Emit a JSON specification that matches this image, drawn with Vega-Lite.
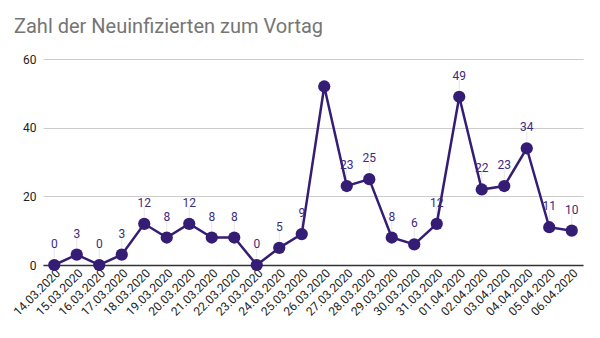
{
  "$schema": "https://vega.github.io/schema/vega-lite/v6.json",
  "width": 540,
  "height": 206,
  "autosize": "none",
  "padding": {"left": 43, "top": 59, "right": 17, "bottom": 73},
  "background": "white",
  "title": {
    "text": "Zahl der Neuinfizierten zum Vortag",
    "anchor": "start",
    "frame": "group",
    "font": "Roboto",
    "fontSize": 20,
    "fontWeight": "normal",
    "color": "#757575",
    "dx": -29,
    "offset": 16
  },
  "config": {
    "view": {"stroke": null},
    "font": "Roboto"
  },
  "data": {
    "values": [
      {"datum": "14.03.2020", "n": 0},
      {"datum": "15.03.2020", "n": 3},
      {"datum": "16.03.2020", "n": 0},
      {"datum": "17.03.2020", "n": 3},
      {"datum": "18.03.2020", "n": 12},
      {"datum": "19.03.2020", "n": 8},
      {"datum": "20.03.2020", "n": 12},
      {"datum": "21.03.2020", "n": 8},
      {"datum": "22.03.2020", "n": 8},
      {"datum": "23.03.2020", "n": 0},
      {"datum": "24.03.2020", "n": 5},
      {"datum": "25.03.2020", "n": 9},
      {"datum": "26.03.2020", "n": 52},
      {"datum": "27.03.2020", "n": 23},
      {"datum": "28.03.2020", "n": 25},
      {"datum": "29.03.2020", "n": 8},
      {"datum": "30.03.2020", "n": 6},
      {"datum": "31.03.2020", "n": 12},
      {"datum": "01.04.2020", "n": 49},
      {"datum": "02.04.2020", "n": 22},
      {"datum": "03.04.2020", "n": 23},
      {"datum": "04.04.2020", "n": 34},
      {"datum": "05.04.2020", "n": 11},
      {"datum": "06.04.2020", "n": 10}
    ]
  },
  "encoding": {
    "x": {
      "field": "datum",
      "type": "ordinal",
      "sort": null,
      "scale": {"type": "point", "padding": 0.5},
      "axis": {
        "title": null,
        "labelAngle": -45,
        "labelAlign": "right",
        "labelBaseline": "top",
        "labelFontSize": 12,
        "labelColor": "#222222",
        "labelPadding": 2,
        "labelOverlap": false,
        "ticks": false,
        "domainColor": "#333333",
        "domainWidth": 1.5,
        "grid": false,
        "labelFont": "Roboto"
      }
    },
    "y": {
      "field": "n",
      "type": "quantitative",
      "scale": {"domain": [0, 60]},
      "axis": {
        "title": null,
        "values": [0, 20, 40, 60],
        "labelFontSize": 12,
        "labelColor": "#222222",
        "labelPadding": 7,
        "ticks": false,
        "domain": false,
        "gridColor": "#cccccc",
        "labelFont": "Roboto"
      }
    }
  },
  "layer": [
    {
      "mark": {"type": "tick", "orient": "vertical", "size": 10, "thickness": 1, "color": "#e6e6e6", "yOffset": -12},
      "encoding": {
        "opacity": {"condition": {"test": "datum.n == 52", "value": 0}, "value": 1}
      }
    },
    {
      "mark": {"type": "line", "color": "#351c75", "strokeWidth": 2.5}
    },
    {
      "mark": {"type": "circle", "color": "#351c75", "size": 150, "opacity": 1}
    },
    {
      "mark": {"type": "text", "color": "#3d2a80", "fontSize": 12, "baseline": "alphabetic", "dy": -17, "font": "Roboto"},
      "encoding": {
        "text": {"field": "n", "type": "quantitative"},
        "opacity": {"condition": {"test": "datum.n == 52", "value": 0}, "value": 1}
      }
    }
  ]
}
